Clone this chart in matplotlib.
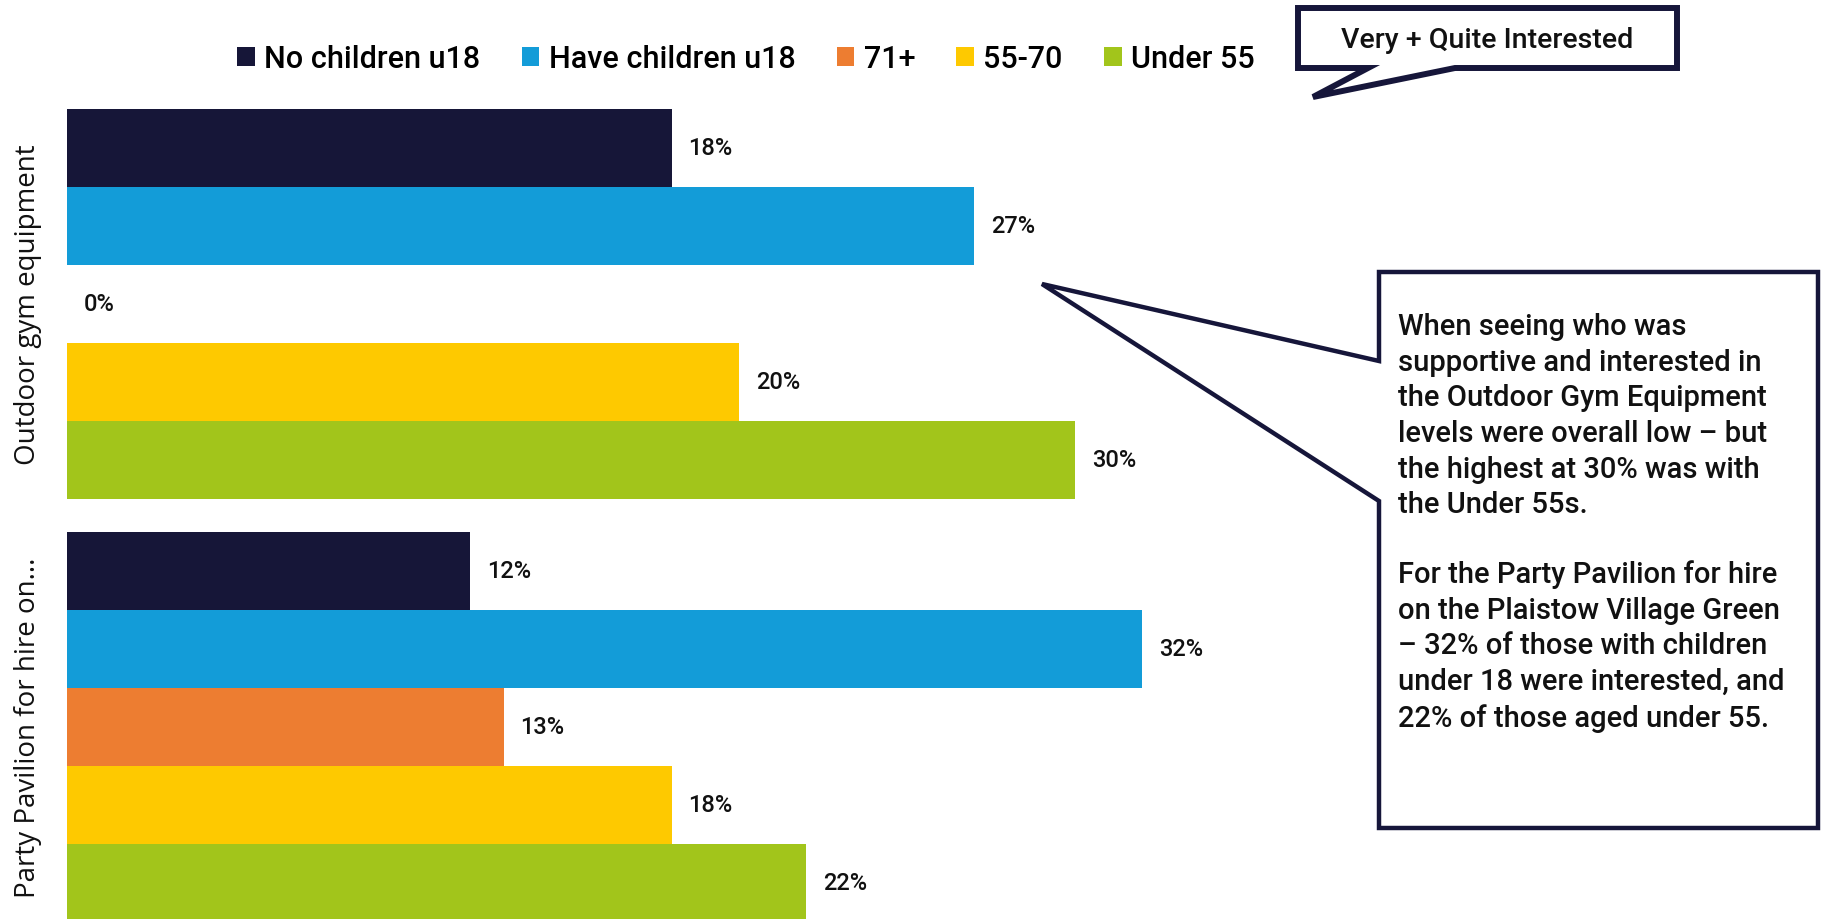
import numpy as np
import matplotlib
matplotlib.use("Agg")
import matplotlib.pyplot as plt
from matplotlib.patches import Polygon

# ---- data ----
categories = ["Outdoor gym equipment", "Party Pavilion for hire on..."]
series = ["No children u18", "Have children u18", "71+", "55-70", "Under 55"]
no_children_u18 = [18, 12]
have_children_u18 = [27, 32]
age_71_plus = [0, 13]
age_55_70 = [20, 18]
under_55 = [30, 22]
values = [no_children_u18, have_children_u18, age_71_plus, age_55_70, under_55]
colors = ["#161638", "#139cd8", "#ed7d31", "#fec900", "#a2c51b"]

note_1 = ("When seeing who was\nsupportive and interested in\n"
          "the Outdoor Gym Equipment\nlevels were overall low \u2013 but\n"
          "the highest at 30% was with\nthe Under 55s.")
note_2 = ("For the Party Pavilion for hire\non the Plaistow Village Green\n"
          "\u2013 32% of those with children\nunder 18 were interested, and\n"
          "22% of those aged under 55.")
badge = "Very + Quite Interested"

W, H = 1822, 920
NAVY = "#16163a"
TXT = ["Roboto", "DejaVu Sans"]


def fx(px):
    return px / W


def fy(py):
    # pixel rows counted from the top
    return 1 - py / H


fig = plt.figure(figsize=(W / 100, H / 100), dpi=100)
fig.patch.set_facecolor("white")

# axes: left edge of bars at 67px, 33.6px per percent, top of first bar at 110px
ax_left, ax_right = 67, 67 + 33.6 * 45
ax = fig.add_axes([fx(ax_left), 0, fx(ax_right - ax_left), fy(110)])

bar_h = 78 / 423
n = len(series)
cat_pos = np.arange(len(categories))
for j, (name, vals, col) in enumerate(zip(series, values, colors)):
    ypos = cat_pos - n * bar_h / 2 + (j + 0.5) * bar_h
    ax.barh(ypos, vals, height=bar_h, color=col, label=name, linewidth=0)
    for y, v in zip(ypos, vals):
        ax.text(v + 0.5, y, f"{v}%", va="center", ha="left", fontsize=17,
                family=TXT, fontweight="medium", color="#111111")

ax.set_xlim(0, 45)
top = -n * bar_h / 2
ax.set_ylim(top + 810 / 423, top)
ax.set_yticks(cat_pos, categories, rotation=90, va="center", ha="right",
              fontsize=20, family=["Open Sans", "DejaVu Sans"], color="#111111")
ax.tick_params(axis="y", length=0, pad=18)
ax.set_xticks([])
for s in ax.spines.values():
    s.set_visible(False)

handles, labels = ax.get_legend_handles_labels()
fig.legend(handles, labels, loc="center", bbox_to_anchor=(fx(746), fy(60)),
           ncol=5, frameon=False, prop={"family": TXT, "size": 22, "weight": "medium"},
           handlelength=0.58, handleheight=0.58, handletextpad=0.3,
           columnspacing=1.35, borderaxespad=0)

# small badge callout
badge_pts = [(1298, 9), (1677, 9), (1677, 69), (1455, 69), (1313, 98),
             (1368, 69), (1298, 69)]
fig.patches.append(Polygon([(fx(x), fy(y)) for x, y in badge_pts], closed=True,
                           transform=fig.transFigure, facecolor="white",
                           edgecolor=NAVY, linewidth=4.3, joinstyle="miter"))
fig.text(fx(1487), fy(40), badge, ha="center", va="center", fontsize=20.5,
         family=TXT, fontweight="medium", color="#111111")

# big note callout
note_pts = [(1379, 273), (1818, 273), (1818, 829), (1379, 829), (1379, 502),
            (1042, 285), (1379, 362)]
fig.patches.append(Polygon([(fx(x), fy(y)) for x, y in note_pts], closed=True,
                           transform=fig.transFigure, facecolor="white",
                           edgecolor=NAVY, linewidth=3.2, joinstyle="miter"))
fig.text(fx(1398), fy(313), note_1, ha="left", va="top", fontsize=21,
         family=TXT, fontweight="medium", color="#111111", linespacing=1.35)
fig.text(fx(1398), fy(560), note_2, ha="left", va="top", fontsize=21,
         family=TXT, fontweight="medium", color="#111111", linespacing=1.35)

fig.savefig("out.png", dpi=100, facecolor="white")
